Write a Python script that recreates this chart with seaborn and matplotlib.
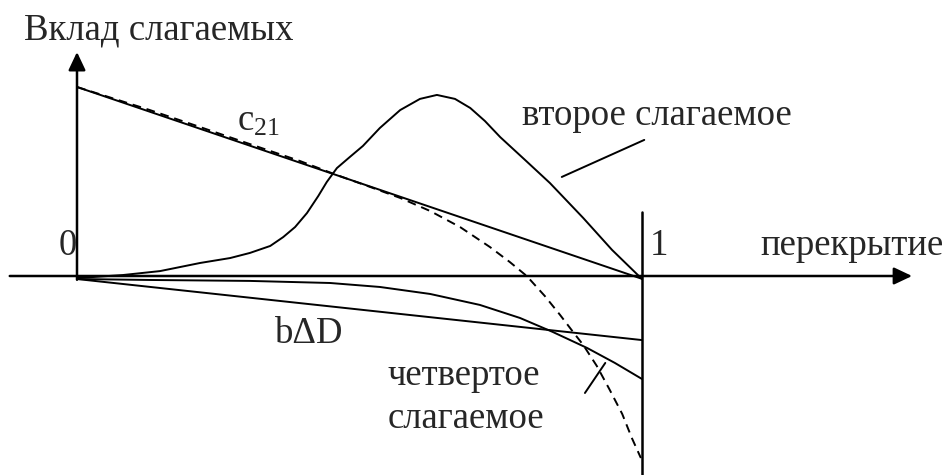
import matplotlib
matplotlib.use("Agg")
import matplotlib.pyplot as plt
import seaborn as sns

# Straight c21 term
c21_x = [0.0, 1.0]
c21_y = [1.0, -0.015]

# Dashed curve that follows c21 and then falls off
dash_x = [0.0, 0.129, 0.218, 0.306, 0.395, 0.460, 0.519, 0.572, 0.625, 0.678,
          0.731, 0.766, 0.796, 0.828, 0.855, 0.878, 0.896, 0.920, 0.943, 0.965,
          0.982, 0.998]
dash_y = [1.0, 0.878, 0.788, 0.698, 0.608, 0.534, 0.471, 0.413, 0.344, 0.259,
          0.153, 0.074, 0.000, -0.106, -0.206, -0.296, -0.365, -0.476, -0.603,
          -0.730, -0.857, -0.963]

# Second term (bell-shaped)
second_x = [0.0, 0.081, 0.147, 0.218, 0.271, 0.306, 0.342, 0.365, 0.386, 0.407,
            0.427, 0.442, 0.460, 0.483, 0.506, 0.536, 0.572, 0.607, 0.637, 0.669,
            0.696, 0.722, 0.749, 0.793, 0.837, 0.896, 0.947, 1.0]
second_y = [-0.011, 0.005, 0.026, 0.069, 0.095, 0.122, 0.159, 0.206, 0.259, 0.333,
            0.423, 0.497, 0.571, 0.630, 0.688, 0.783, 0.878, 0.937, 0.958, 0.937,
            0.889, 0.820, 0.735, 0.614, 0.492, 0.307, 0.138, -0.016]

# b·ΔD term
bdd_x = [0.0, 1.0]
bdd_y = [-0.016, -0.339]

# Fourth term
fourth_x = [0.0, 0.129, 0.306, 0.448, 0.536, 0.625, 0.713, 0.784, 0.842, 0.903,
            0.952, 1.0]
fourth_y = [-0.016, -0.021, -0.026, -0.037, -0.058, -0.095, -0.153, -0.222,
            -0.296, -0.381, -0.460, -0.545]

sns.set_theme(style="white")
plt.rcParams["font.family"] = ["Liberation Serif", "DejaVu Serif"]
plt.rcParams["mathtext.fontset"] = "custom"
plt.rcParams["mathtext.rm"] = "Liberation Serif"

fig = plt.figure(figsize=(9.5, 4.75), dpi=100)
ax = fig.add_axes([0, 0, 1, 1])
ax.set_xlim(-77 / 565, (950 - 77) / 565)
ax.set_ylim((276 - 475) / 189, 276 / 189)
ax.set_axis_off()

lw = 1.4
sns.lineplot(x=c21_x, y=c21_y, ax=ax, color="black", lw=lw)
sns.lineplot(x=second_x, y=second_y, ax=ax, color="black", lw=lw)
sns.lineplot(x=bdd_x, y=bdd_y, ax=ax, color="black", lw=lw)
sns.lineplot(x=fourth_x, y=fourth_y, ax=ax, color="black", lw=lw)
sns.lineplot(x=dash_x, y=dash_y, ax=ax, color="black", lw=lw)
ax.lines[-1].set_dashes((4.5, 3))

# Coordinate axes with arrow heads
arrow = dict(arrowstyle="-|>,head_length=0.55,head_width=0.26", lw=1.8,
             color="black", shrinkA=0, shrinkB=0, mutation_scale=20)
ax.annotate("", xy=(1.478, 0), xytext=(-0.119, 0), arrowprops=arrow)
ax.annotate("", xy=(0, 1.185), xytext=(0, -0.02), arrowprops=arrow)

# Vertical line at overlap = 1
ax.plot([1.0, 1.0], [0.339, -1.1], color="black", lw=1.8)

# Leader lines
ax.plot([0.858, 1.004], [0.524, 0.720], color="black", lw=lw)
ax.plot([0.899, 0.935], [-0.619, -0.460], color="black", lw=lw)

fs = 26.5
ax.text(-0.094, 1.249, "Вклад слагаемых", fontsize=fs, va="baseline")
ax.text(0.283, 0.767, r"$\mathregular{c_{21}}$", fontsize=fs, va="baseline")
ax.text(0.788, 0.799, "второе слагаемое", fontsize=fs, va="baseline")
ax.text(-0.032, 0.111, "0", fontsize=fs, va="baseline")
ax.text(1.014, 0.111, "1", fontsize=fs, va="baseline")
ax.text(1.209, 0.111, "перекрытие", fontsize=fs, va="baseline")
ax.text(0.350, -0.354, "bΔD", fontsize=fs, va="baseline")
ax.text(0.549, -0.577, "четвертое", fontsize=fs, va="baseline")
ax.text(0.549, -0.804, "слагаемое", fontsize=fs, va="baseline")

fig.savefig("out.png", dpi=100)
